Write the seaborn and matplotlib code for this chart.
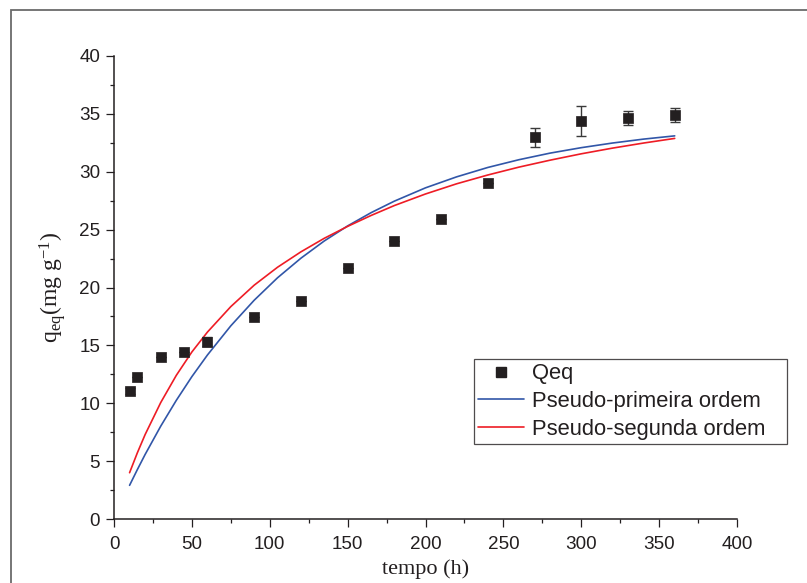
import matplotlib
matplotlib.use("Agg")
import matplotlib.pyplot as plt
from matplotlib.lines import Line2D
from matplotlib.patches import Rectangle
import seaborn as sns
import pandas as pd

# ---- data ----
t_exp = [10, 15, 30, 45, 60, 90, 120, 150, 180, 210, 240, 270, 300, 330, 360]
q_exp = [11.06, 12.24, 13.97, 14.45, 15.32, 17.42, 18.83, 21.66, 24.05, 25.92,
         29.05, 32.96, 34.41, 34.66, 34.89]
q_err = [0.3, 0.0, 0.0, 0.0, 0.4, 0.0, 0.0, 0.0, 0.0, 0.0, 0.0, 0.8, 1.3, 0.62, 0.59]

t_fit = [10, 15, 20, 30, 40, 50, 60, 75, 90, 105, 120, 135, 150, 165, 180, 200,
         220, 240, 260, 280, 300, 320, 340, 360]
q_pfo = [2.91, 4.27, 5.58, 8.02, 10.25, 12.30, 14.17, 16.69, 18.90, 20.84, 22.53,
         24.02, 25.32, 26.46, 27.46, 28.61, 29.56, 30.37, 31.04, 31.61, 32.08,
         32.48, 32.82, 33.10]
q_pso = [4.00, 5.72, 7.30, 10.06, 12.41, 14.43, 16.15, 18.35, 20.20, 21.75, 23.08,
         24.25, 25.28, 26.22, 27.08, 28.08, 28.96, 29.72, 30.40, 31.00, 31.55,
         32.04, 32.48, 32.88]

labels = ["Qeq", "Pseudo-primeira ordem", "Pseudo-segunda ordem"]
x_ticks = [0, 50, 100, 150, 200, 250, 300, 350, 400]
y_ticks = [0, 5, 10, 15, 20, 25, 30, 35, 40]

blue = "#3156a8"
red = "#ee1c25"
mk = "#231f20"

sns.set_theme(style="ticks")
plt.rcParams["font.family"] = ["Liberation Sans", "DejaVu Sans"]
plt.rcParams["mathtext.fontset"] = "custom"
plt.rcParams["mathtext.rm"] = "Liberation Serif"
plt.rcParams["mathtext.it"] = "Liberation Serif:italic"

fig = plt.figure(figsize=(8.07, 5.83), dpi=100)
ax = fig.add_axes([114 / 807, 1 - 519 / 583, (737 - 114) / 807, (519 - 56) / 583])

# outer frame (partial border like the reference crop)
fig.patches.append(Rectangle((11 / 807, -0.05), 1.2, 1 - 10 / 583 + 0.05,
                             transform=fig.transFigure, fill=False,
                             edgecolor="#6b6b6b", linewidth=1.3, zorder=0))

df_fit = pd.DataFrame({"t": t_fit, "pfo": q_pfo, "pso": q_pso})
sns.lineplot(data=df_fit, x="t", y="pfo", ax=ax, color=blue, linewidth=1.2,
             estimator=None, sort=False)
sns.lineplot(data=df_fit, x="t", y="pso", ax=ax, color=red, linewidth=1.2,
             estimator=None, sort=False)

ax.errorbar(t_exp, q_exp, yerr=q_err, fmt="none", ecolor="#3a3a3a",
            elinewidth=1.0, capsize=3.4, capthick=1.0, zorder=3)
df_exp = pd.DataFrame({"t": t_exp, "q": q_exp})
sns.scatterplot(data=df_exp, x="t", y="q", ax=ax, marker="s", s=62,
                color=mk, edgecolor=mk, linewidth=0.5, zorder=4)

ax.set_xlim(0, 400)
ax.set_ylim(0, 40)
ax.set_xticks(x_ticks)
ax.set_yticks(y_ticks)
ax.set_xticks([25 + 50 * i for i in range(8)], minor=True)
ax.set_yticks([2.5 + 5 * i for i in range(8)], minor=True)
ax.tick_params(axis="both", which="major", length=6, width=0.9, direction="out",
               labelsize=13.6, pad=4, color="#231f20", labelcolor="#231f20")
ax.tick_params(axis="x", which="major", pad=6)
ax.tick_params(axis="both", which="minor", length=3, width=0.9, direction="out",
               color="#231f20")
sns.despine(ax=ax)
for s in ["left", "bottom"]:
    ax.spines[s].set_linewidth(1.1)
    ax.spines[s].set_color("#231f20")

ax.set_xlabel("tempo (h)", family="Liberation Serif", fontsize=16, labelpad=5,
              color="#231f20")
ax.set_ylabel(r"q$_{\mathrm{eq}}$(mg g$^{\mathrm{-1}}$)", family="Liberation Serif",
              fontsize=17, labelpad=8, color="#231f20")

handles = [
    Line2D([], [], linestyle="none", marker="s", markersize=7.5, color=mk),
    Line2D([], [], color=blue, linewidth=1.2),
    Line2D([], [], color=red, linewidth=1.2),
]
x0, x1 = 474 / 807, 787 / 807
y0, y1 = 1 - 442 / 583, 1 - 359 / 583
leg = fig.legend(handles, labels, loc="upper left",
                 bbox_to_anchor=(x0, y0, x1 - x0, y1 - y0), mode="expand",
                 fontsize=15.8, frameon=True, fancybox=False, borderpad=0.2,
                 handlelength=2.1, handletextpad=0.35, labelspacing=0.3,
                 borderaxespad=0)
leg.get_frame().set_edgecolor("#231f20")
leg.get_frame().set_linewidth(0.9)
for txt in leg.get_texts():
    txt.set_color("#231f20")

fig.savefig("out.png", dpi=100)
